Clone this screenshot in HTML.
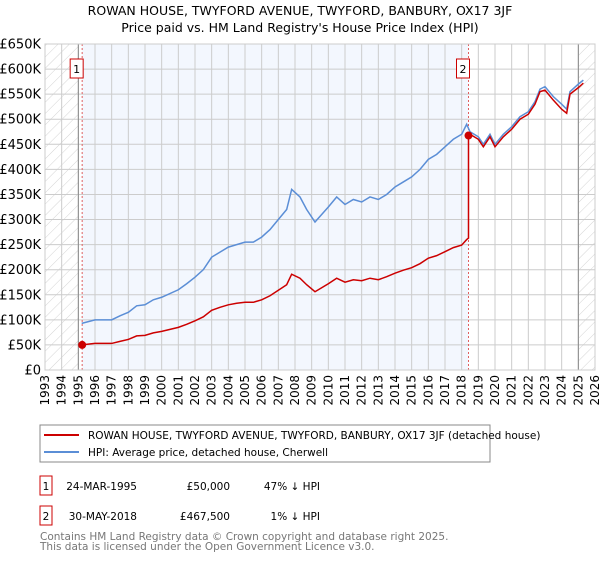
<!DOCTYPE html>
<html><head><meta charset="utf-8"><style>
body{margin:0;background:#fff;font-family:"Liberation Sans","DejaVu Sans",sans-serif;}
svg text{font-family:"DejaVu Sans","Liberation Sans",sans-serif;}
</style></head><body>
<svg id="c" width="600" height="560" xmlns="http://www.w3.org/2000/svg">
<defs><pattern id="h" width="8" height="8" patternUnits="userSpaceOnUse" patternTransform="rotate(45)"><line x1="0" y1="0" x2="0" y2="8" stroke="#d4d4d4" stroke-width="1"/></pattern></defs>
<text x="300" y="15" text-anchor="middle" font-size="12.5">ROWAN HOUSE, TWYFORD AVENUE, TWYFORD, BANBURY, OX17 3JF</text>
<text x="300" y="32" text-anchor="middle" font-size="12.5">Price paid vs. HM Land Registry's House Price Index (HPI)</text>
<g id="plot"></g>
<rect x="40" y="425" width="450" height="37" fill="#fff" stroke="#888"/>
<line x1="44" y1="435" x2="79" y2="435" stroke="#cc0000" stroke-width="2"/>
<text x="88" y="439" font-size="10.5">ROWAN HOUSE, TWYFORD AVENUE, TWYFORD, BANBURY, OX17 3JF (detached house)</text>
<line x1="44" y1="452" x2="79" y2="452" stroke="#5b8ed6" stroke-width="2"/>
<text x="88" y="456" font-size="10.5">HPI: Average price, detached house, Cherwell</text>
<g font-size="10.5">
<rect x="40" y="476" width="12" height="19" fill="#fff" stroke="#cc0000"/><text x="46" y="490" text-anchor="middle">1</text>
<text x="137" y="490" text-anchor="end">24-MAR-1995</text><text x="230" y="490" text-anchor="end">£50,000</text><text x="320" y="490" text-anchor="end">47% ↓ HPI</text>
<rect x="40" y="506" width="12" height="19" fill="#fff" stroke="#cc0000"/><text x="46" y="520" text-anchor="middle">2</text>
<text x="137" y="520" text-anchor="end">30-MAY-2018</text><text x="230" y="520" text-anchor="end">£467,500</text><text x="320" y="520" text-anchor="end">1% ↓ HPI</text>
</g>
<text x="40" y="540" font-size="10.5" fill="#777">Contains HM Land Registry data © Crown copyright and database right 2025.</text>
<text x="40" y="550" font-size="10.5" fill="#777">This data is licensed under the Open Government Licence v3.0.</text>
</svg>
<script>
const hpiYears=[1995.2,1996,1997,1997.5,1998,1998.5,1999,1999.5,2000,2001,2001.5,2002,2002.5,2003,2003.5,2004,2004.5,2005,2005.5,2006,2006.5,2007,2007.5,2007.8,2008.3,2008.7,2009.2,2009.6,2010,2010.5,2011,2011.5,2012,2012.5,2013,2013.5,2014,2014.5,2015,2015.5,2016,2016.5,2017,2017.5,2018,2018.3,2018.5,2019,2019.3,2019.7,2020,2020.5,2021,2021.5,2022,2022.4,2022.7,2023,2023.5,2024,2024.3,2024.5,2025,2025.3];
const hpiValues=[93,100,100,108,115,128,130,140,145,160,172,185,200,225,235,245,250,255,255,265,280,300,320,360,345,320,295,310,325,345,330,340,335,345,340,350,365,375,385,400,420,430,445,460,470,490,475,465,450,470,450,470,485,505,515,535,560,565,545,530,520,555,570,578];
const priceYears=[1995.2,1996,1997,1997.5,1998,1998.5,1999,1999.5,2000,2001,2001.5,2002,2002.5,2003,2003.5,2004,2004.5,2005,2005.5,2006,2006.5,2007,2007.5,2007.8,2008.3,2008.7,2009.2,2009.6,2010,2010.5,2011,2011.5,2012,2012.5,2013,2013.5,2014,2014.5,2015,2015.5,2016,2016.5,2017,2017.5,2018,2018.3,2018.41,2018.41,2018.5,2019,2019.3,2019.7,2020,2020.5,2021,2021.5,2022,2022.4,2022.7,2023,2023.5,2024,2024.3,2024.5,2025,2025.3];
const priceValues=[50,53,53,57,61,68,69,74,77,85,91,98,106,119,125,130,133,135,135,140,148,159,170,191,183,170,156,164,172,183,175,180,178,183,180,186,193,199,204,212,223,228,236,244,249,260,263,467.5,470,460,445,465,445,465,480,500,510,530,555,558,538,520,512,550,563,572];
const saleYears=[1995.23,2018.41];
const saleValues=[50,467.5];
const saleLabels=["1","2"];
const yTicks=[0,50,100,150,200,250,300,350,400,450,500,550,600,650];
const yTickLabels=["£0","£50K","£100K","£150K","£200K","£250K","£300K","£350K","£400K","£450K","£500K","£550K","£600K","£650K"];
const xTicks=[1993,1994,1995,1996,1997,1998,1999,2000,2001,2002,2003,2004,2005,2006,2007,2008,2009,2010,2011,2012,2013,2014,2015,2016,2017,2018,2019,2020,2021,2022,2023,2024,2025,2026];
const X0=45,X1=595,Y0=370,Y1=44;
const xs=y=>X0+(y-1993)/(2026-1993)*(X1-X0);
const ys=v=>Y0-v/650*(Y0-Y1);
const g=document.getElementById('plot');const NS='http://www.w3.org/2000/svg';
function mk(t,a){const e=document.createElementNS(NS,t);for(const k in a)e.setAttribute(k,a[k]);g.appendChild(e);return e;}
let e;
e=mk('rect',{x:X0,y:Y1,width:X1-X0,height:Y0-Y1,fill:'#fff'});


e=mk('rect',{x:xs(saleYears[0]),y:Y1,width:xs(saleYears[1])-xs(saleYears[0]),height:Y0-Y1,fill:'#eef3fd',opacity:0.7});


e=mk('rect',{x:X0,y:Y1,width:xs(1995)-X0,height:Y0-Y1,fill:'url(#h)'});


e=mk('rect',{x:xs(2025),y:Y1,width:X1-xs(2025),height:Y0-Y1,fill:'url(#h)'});


yTicks.forEach((t,i)=>{
 e=mk('line',{x1:X0,x2:X1,y1:ys(t),y2:ys(t),stroke:'#ccc'});
 
 
 e=mk('text',{x:X0-4,y:ys(t)+4.5,'text-anchor':'end','font-size':'13'});e.textContent=yTickLabels[i];
 
 
});
xTicks.forEach(t=>{
 e=mk('line',{x1:xs(t),x2:xs(t),y1:Y1,y2:Y0,stroke:'#ccc'});
 
 
 e=mk('text',{x:0,y:0,'text-anchor':'end','font-size':'12',transform:`translate(${xs(t)+4},${Y0+5}) rotate(-90)`});e.textContent=t;
 
 
});
e=mk('line',{x1:xs(1995),x2:xs(1995),y1:Y1,y2:Y0,stroke:'#888'});


e=mk('line',{x1:xs(2025),x2:xs(2025),y1:Y1,y2:Y0,stroke:'#888'});


saleYears.forEach((y,i)=>{
 e=mk('line',{x1:xs(y),x2:xs(y),y1:Y1,y2:Y0,stroke:'#e06060','stroke-dasharray':'2,2'});
 
 
});
e=mk('polyline',{points:hpiYears.map((y,i)=>xs(y)+','+ys(hpiValues[i])).join(' '),fill:'none',stroke:'#5b8ed6','stroke-width':1.5});


e=mk('polyline',{points:priceYears.map((y,i)=>xs(y)+','+ys(priceValues[i])).join(' '),fill:'none',stroke:'#cc0000','stroke-width':1.5});


saleYears.forEach((y,i)=>{
 e=mk('circle',{cx:xs(y),cy:ys(saleValues[i]),r:4,fill:'#cc0000'});
 
 
 const bx=xs(y)-6;
 e=mk('rect',{x:bx-6,y:59,width:13,height:19,fill:'#fff',stroke:'#cc0000'});
 
 
 e=mk('text',{x:bx+0.5,y:73,'text-anchor':'middle','font-size':'11'});e.textContent=saleLabels[i];
 
 
});
e=mk('rect',{x:X0,y:Y1,width:X1-X0,height:Y0-Y1,fill:'none',stroke:'#ccc'});


</script>
</body></html>
